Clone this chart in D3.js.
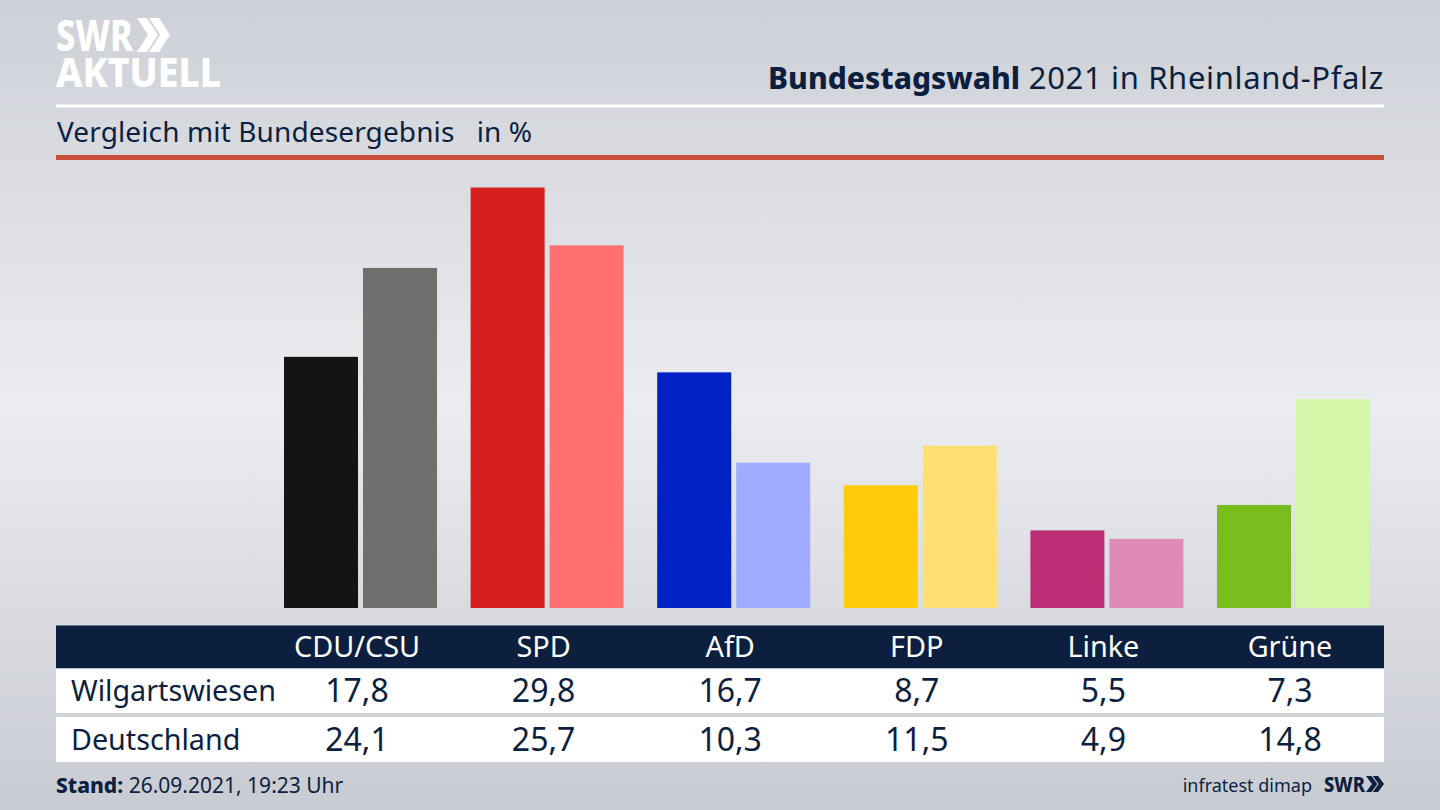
<!DOCTYPE html>
<html lang="de">
<head>
<meta charset="utf-8">
<title>Bundestagswahl 2021 in Rheinland-Pfalz</title>
<script src="https://cdn.jsdelivr.net/npm/d3@7"></script>
<style>
  html, body { margin: 0; padding: 0; background: #d5d7dd; }
  svg { display: block; font-family: "Noto Sans", sans-serif; }
</style>
</head>
<body>
<svg id="chart" width="1440" height="810"></svg>
<script>
const parties = ["CDU/CSU", "SPD", "AfD", "FDP", "Linke", "Grüne"];
const regions = ["Wilgartswiesen", "Deutschland"];
const wilgartswiesen = [17.8, 29.8, 16.7, 8.7, 5.5, 7.3];
const deutschland = [24.1, 25.7, 10.3, 11.5, 4.9, 14.8];
const darkColors = ["#141414", "#d61f1f", "#0022c4", "#ffcc0a", "#bb2e76", "#78bc1e"];
const lightColors = ["#706f6e", "#ff7070", "#9eadff", "#ffe070", "#e08ab8", "#d3f6a8"];

const navy = "#0c1f3f";
const svg = d3.select("#chart");

const bg = svg.append("defs").append("linearGradient")
  .attr("id", "bg").attr("x1", 0).attr("x2", 0).attr("y1", 0).attr("y2", 1);
bg.append("stop").attr("offset", "0%").attr("stop-color", "#cdd0d6");
bg.append("stop").attr("offset", "50%").attr("stop-color", "#eaecf0");
bg.append("stop").attr("offset", "100%").attr("stop-color", "#c8cbd1");
svg.append("rect").attr("width", 1440).attr("height", 810).attr("fill", "url(#bg)");

// scales
const x = d3.scaleBand().domain(parties).range([284, 1370]).paddingInner(0.18);
const inner = d3.scaleBand().domain(regions).range([0, x.bandwidth()]).paddingInner(0.063);
const y = d3.scaleLinear().domain([0, 29.8]).range([608, 187.5]);
const labelX = p => x(p) + x.bandwidth() / 2 - 3.5;

// double chevron of the SWR mark
const chevrons = (g, px, py, w, h, color) => {
  const depth = w * 0.33, thick = w * 0.3;
  [0, w - depth - thick].forEach(o => {
    g.append("path")
      .attr("d", `M${px + o} ${py} l${thick} 0 l${depth} ${h / 2} l${-depth} ${h / 2} l${-thick} 0 l${depth} ${-h / 2} z`)
      .attr("fill", color);
  });
};

// header
const logo = svg.append("g");
const logoText = logo.append("text").attr("fill", "#fff").attr("font-weight", 800);
logoText.append("tspan").attr("x", 56).attr("y", 51).attr("font-size", 42)
  .attr("textLength", 77).attr("lengthAdjust", "spacingAndGlyphs").text("SWR");
logoText.append("tspan").attr("x", 56).attr("y", 87).attr("font-size", 40.5)
  .attr("textLength", 165).attr("lengthAdjust", "spacingAndGlyphs").text("AKTUELL");
chevrons(logo, 137, 18, 33, 34, "#fff");

const title = svg.append("text").attr("x", 1384).attr("y", 89).attr("text-anchor", "end")
  .attr("font-size", 30).attr("fill", navy);
title.append("tspan").attr("font-weight", 800).text("Bundestagswahl");
title.append("tspan").attr("font-size", 31).attr("letter-spacing", 0.65).text(" 2021 in Rheinland-Pfalz");

svg.append("rect").attr("x", 56).attr("y", 104.5).attr("width", 1328).attr("height", 3).attr("fill", "#fff");
svg.append("text").attr("x", 57).attr("y", 142).attr("font-size", 28).attr("letter-spacing", 0.12).attr("fill", navy)
  .attr("xml:space", "preserve").text("Vergleich mit Bundesergebnis   in %");
svg.append("rect").attr("x", 56).attr("y", 155).attr("width", 1328).attr("height", 5).attr("fill", "#c8503c");

// bars
const groups = svg.append("g").selectAll("g")
  .data(parties)
  .join("g")
  .attr("transform", d => `translate(${x(d)},0)`);
groups.append("rect")
  .attr("x", inner(regions[0]))
  .attr("y", (d, i) => y(wilgartswiesen[i]))
  .attr("width", inner.bandwidth())
  .attr("height", (d, i) => y(0) - y(wilgartswiesen[i]))
  .attr("fill", (d, i) => darkColors[i]);
groups.append("rect")
  .attr("x", inner(regions[1]))
  .attr("y", (d, i) => y(deutschland[i]))
  .attr("width", inner.bandwidth())
  .attr("height", (d, i) => y(0) - y(deutschland[i]))
  .attr("fill", (d, i) => lightColors[i]);

// table
svg.append("rect").attr("x", 56).attr("y", 625.5).attr("width", 1328).attr("height", 43).attr("fill", navy);
svg.append("rect").attr("x", 56).attr("y", 668.5).attr("width", 1328).attr("height", 44.5).attr("fill", "#fff");
svg.append("rect").attr("x", 56).attr("y", 717).attr("width", 1328).attr("height", 45).attr("fill", "#fff");

svg.append("g").selectAll("text")
  .data(parties)
  .join("text")
  .attr("x", labelX)
  .attr("y", 657)
  .attr("text-anchor", "middle")
  .attr("font-size", 28.8)
  .attr("fill", "#fff")
  .text(d => d);

const fmt = v => v.toFixed(1).replace(".", ",");
[[regions[0], wilgartswiesen, 701], [regions[1], deutschland, 750]].forEach(([name, values, rowY]) => {
  svg.append("text").attr("x", 71).attr("y", rowY).attr("font-size", 28.7).attr("fill", navy).text(name);
  svg.append("g").selectAll("text")
    .data(values)
    .join("text")
    .attr("x", (d, i) => labelX(parties[i]))
    .attr("y", rowY + 1)
    .attr("text-anchor", "middle")
    .attr("font-size", 32)
    .attr("fill", navy)
    .text(fmt);
});

// footer
const stand = svg.append("text").attr("x", 56).attr("y", 793).attr("font-size", 21).attr("fill", navy);
stand.append("tspan").attr("font-weight", 800).text("Stand:");
stand.append("tspan").text(" 26.09.2021, 19:23 Uhr");
svg.append("text").attr("x", 1312).attr("y", 792).attr("text-anchor", "end")
  .attr("font-size", 18).attr("fill", navy).text("infratest dimap");
const small = svg.append("g");
small.append("text").attr("x", 1324).attr("y", 792).attr("font-size", 21).attr("font-weight", 800)
  .attr("fill", navy).attr("textLength", 41).attr("lengthAdjust", "spacingAndGlyphs").text("SWR");
chevrons(small, 1366, 776, 18, 16, navy);
</script>
</body>
</html>
